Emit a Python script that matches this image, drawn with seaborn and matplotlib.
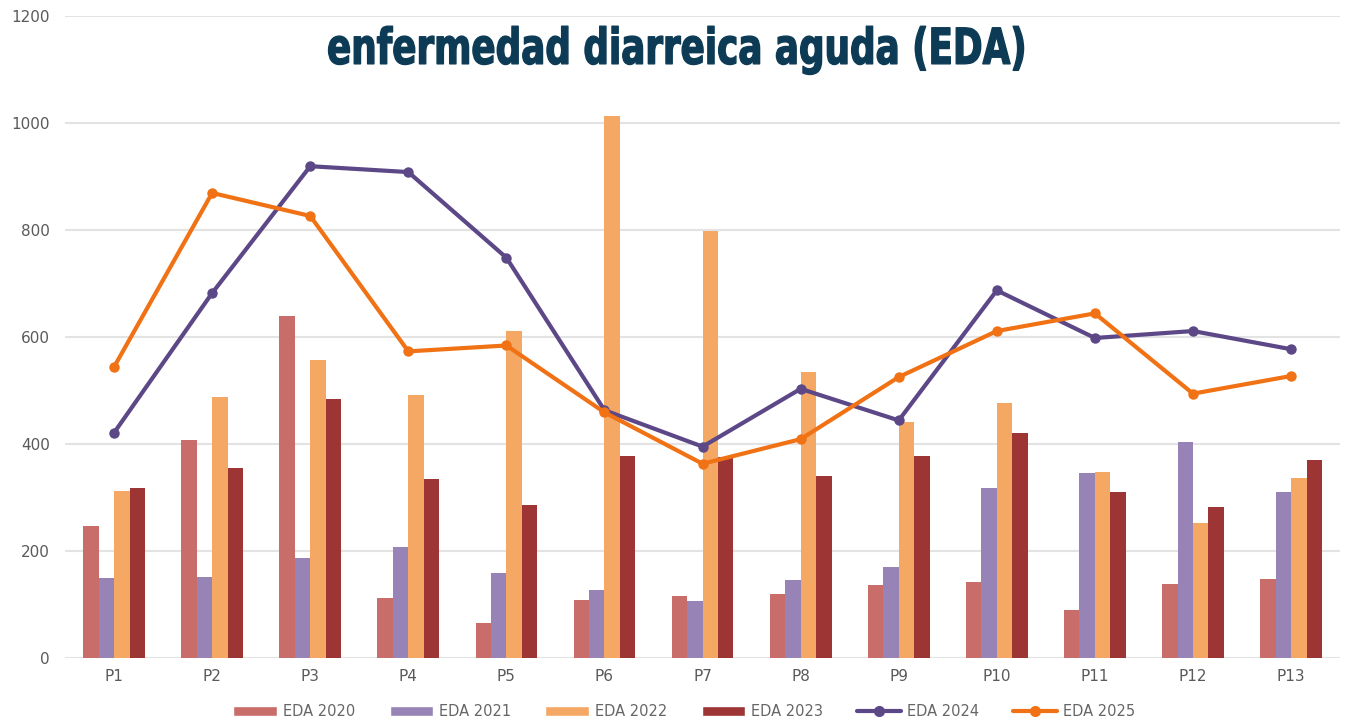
import numpy as np
import pandas as pd
import matplotlib
matplotlib.use("Agg")
import matplotlib.pyplot as plt
import seaborn as sns
from matplotlib.lines import Line2D
from matplotlib.patches import Patch
from matplotlib.patheffects import AbstractPathEffect
from matplotlib.transforms import Affine2D

# Datos
periodos = ["P1", "P2", "P3", "P4", "P5", "P6", "P7", "P8", "P9", "P10", "P11", "P12", "P13"]
eda_2020 = [246, 407, 640, 113, 65, 109, 116, 119, 136, 142, 90, 138, 147]
eda_2021 = [149, 152, 187, 208, 159, 127, 107, 145, 170, 317, 346, 403, 311]
eda_2022 = [313, 488, 556, 491, 612, 1012, 798, 534, 441, 477, 348, 253, 337]
eda_2023 = [317, 356, 484, 334, 286, 378, 376, 341, 378, 420, 311, 283, 370]
eda_2024 = [421, 682, 919, 908, 748, 463, 395, 503, 444, 687, 598, 611, 577]
eda_2025 = [544, 869, 826, 573, 584, 459, 363, 409, 525, 611, 644, 494, 527]

barras = {"EDA 2020": eda_2020, "EDA 2021": eda_2021,
          "EDA 2022": eda_2022, "EDA 2023": eda_2023}
colores_barras = ["#c96d6b", "#9883b6", "#f5a864", "#9c3534"]
color_2024 = "#5c4787"
color_2025 = "#f07214"
color_titulo = "#0d3b55"


class Estrecho(AbstractPathEffect):
    """Comprime el texto en horizontal (letra condensada) y lo engrosa un poco."""

    def __init__(self, sx, sy, cx, cy, grosor):
        super().__init__()
        self.t = Affine2D().translate(-cx, -cy).scale(sx, sy).translate(cx, cy)
        self.grosor = grosor

    def draw_path(self, renderer, gc, tpath, affine, rgbFace=None):
        gc0 = renderer.new_gc()
        gc0.copy_properties(gc)
        gc0.set_linewidth(self.grosor)
        gc0.set_joinstyle("round")
        gc0.set_foreground(rgbFace if rgbFace is not None else color_titulo)
        renderer.draw_path(gc0, tpath, affine + self.t, rgbFace)
        gc0.restore()


df = pd.DataFrame([
    {"periodo": p, "serie": s, "valor": v}
    for s, vals in barras.items() for p, v in zip(periodos, vals)
])

sns.set_style("white")
fig = plt.figure(figsize=(13.55, 7.19), dpi=100)
ax = fig.add_axes([0.048, 0.0848, 0.941, 0.8932])

sns.barplot(data=df, x="periodo", y="valor", hue="serie", order=periodos,
            palette=colores_barras, saturation=1, width=0.63, gap=0,
            linewidth=0, edgecolor="none",
            legend=False, ax=ax, errorbar=None, zorder=3)

x = np.arange(len(periodos))
sns.lineplot(x=x, y=eda_2024, color=color_2024, linewidth=3, marker="o",
             markersize=7.5, markeredgewidth=0, ax=ax, zorder=4)
sns.lineplot(x=x, y=eda_2025, color=color_2025, linewidth=3, marker="o",
             markersize=7.5, markeredgewidth=0, ax=ax, zorder=5)

ax.set_xlim(-0.5, len(periodos) - 0.5)
ax.set_ylim(0, 1200)
ax.set_yticks(range(0, 1201, 200))
ax.set_xticks(x)
ax.set_xticklabels(periodos)
ax.yaxis.grid(True, color="#e3e3e3", linewidth=1.5, zorder=0)
ax.set_axisbelow(True)
for s in ax.spines.values():
    s.set_visible(False)
ax.tick_params(axis="y", length=0, pad=11, labelsize=11, labelcolor="#5a5a5a")
ax.tick_params(axis="x", length=0, pad=8, labelsize=11, labelcolor="#5a5a5a")
ax.set_xlabel("")
ax.set_ylabel("")

# titulo: letra gruesa y condensada
ty = 0.93
W, H = 1355, 719
fig.text(0.5, ty, "enfermedad diarreica aguda (EDA)", ha="center", va="center",
         fontsize=33, fontweight="bold", family="DejaVu Sans", color=color_titulo,
         path_effects=[Estrecho(0.78, 1.08, 0.5 * W, ty * H, 1.0)])

handles = [Patch(facecolor=c, label=l) for c, l in zip(colores_barras, barras.keys())]
handles += [
    Line2D([0], [0], color=color_2024, lw=3, marker="o", markersize=7, label="EDA 2024"),
    Line2D([0], [0], color=color_2025, lw=3, marker="o", markersize=7, label="EDA 2025"),
]
leg = fig.legend(handles=handles, loc="center", bbox_to_anchor=(0.505, 0.01), ncol=6,
                 frameon=False, fontsize=10.5, handlelength=3.0, handleheight=0.7,
                 columnspacing=2.35, handletextpad=0.4)
for t in leg.get_texts():
    t.set_color("#666666")

fig.savefig("out.png", dpi=100)
